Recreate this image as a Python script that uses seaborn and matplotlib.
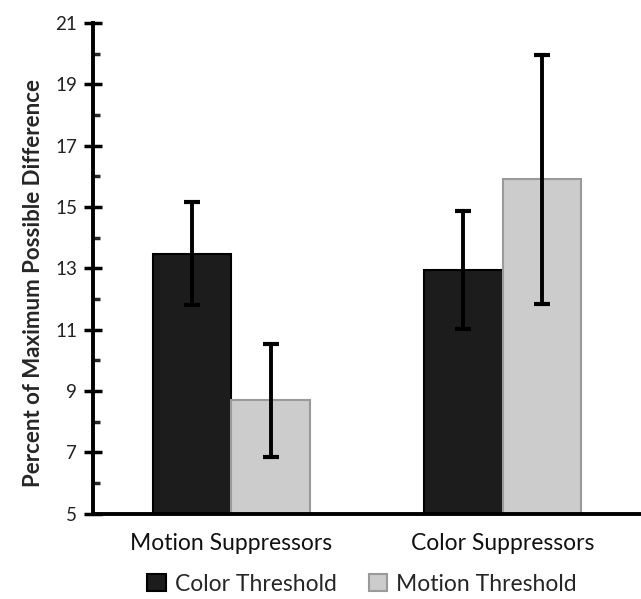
import pandas as pd
import matplotlib.pyplot as plt
import seaborn as sns

sns.set_style("white")
plt.rcParams['font.family'] = ['Lato', 'DejaVu Sans']

# Données
groups = ['Motion Suppressors', 'Color Suppressors']
thresholds = ['Color Threshold', 'Motion Threshold']
color_thr = [13.47, 12.95]
motion_thr = [8.69, 15.9]
color_err = [1.68, 1.92]
motion_err = [1.84, 4.07]
major_ticks = [5, 7, 9, 11, 13, 15, 17, 19, 21]
minor_ticks = [6, 8, 10, 12, 14, 16, 18, 20]

df = pd.DataFrame({
    'Group': groups * 2,
    'Threshold': [thresholds[0]] * 2 + [thresholds[1]] * 2,
    'Value': color_thr + motion_thr,
})
errors = {thresholds[0]: color_err, thresholds[1]: motion_err}

fig = plt.figure(figsize=(6.41, 5.99), dpi=100)
ax = fig.add_axes([0.145, 0.1427, 0.855, 0.819])

sns.barplot(data=df, x='Group', y='Value', hue='Threshold', order=groups,
            hue_order=thresholds, palette=['#1c1c1c', '#cccccc'],
            width=0.58, errorbar=None, ax=ax, legend=False)

edges = ['#000000', '#9a9a9a']
for container, thr, ec in zip(ax.containers, thresholds, edges):
    xs = []
    for bar in container:
        bar.set_edgecolor(ec)
        bar.set_linewidth(1.5)
        xs.append(bar.get_x() + bar.get_width() / 2)
    vals = df[df['Threshold'] == thr]['Value'].tolist()
    ax.errorbar(xs, vals, yerr=errors[thr], fmt='none', ecolor='black',
                elinewidth=2.8, capsize=5.5, capthick=3, zorder=5)

ax.set_ylim(5, 21)
ax.set_xlim(-0.51, 1.51)
ax.set_yticks(major_ticks)
ax.set_yticks(minor_ticks, minor=True)
ax.tick_params(axis='y', which='major', direction='inout', length=13, width=2.5,
               left=True, labelsize=13.5, pad=5, colors='black', labelcolor='#222222')
ax.tick_params(axis='y', which='minor', direction='in', length=5, width=2.5, left=True)
ax.tick_params(axis='x', length=0, labelsize=16.5, pad=14, labelcolor='#111111')

for side in ['top', 'right']:
    ax.spines[side].set_visible(False)
for side in ['left', 'bottom']:
    ax.spines[side].set_linewidth(2.8)
    ax.spines[side].set_color('black')

ax.set_xlabel('')
ax.set_ylabel('Percent of Maximum Possible Difference', fontsize=16,
              fontweight='bold')
ax.yaxis.set_label_coords(-0.09, 0.47)

handles = [plt.Rectangle((0, 0), 1, 1, facecolor=c, edgecolor=e, linewidth=1.5)
           for c, e in zip(['#1c1c1c', '#cccccc'], edges)]
fig.legend(handles, thresholds, loc='center', bbox_to_anchor=(0.565, 0.025),
           ncol=2, frameon=False, fontsize=16.5, handlelength=0.8, handleheight=0.8,
           handletextpad=0.4, columnspacing=1.4)

plt.savefig('out.png', dpi=100)
